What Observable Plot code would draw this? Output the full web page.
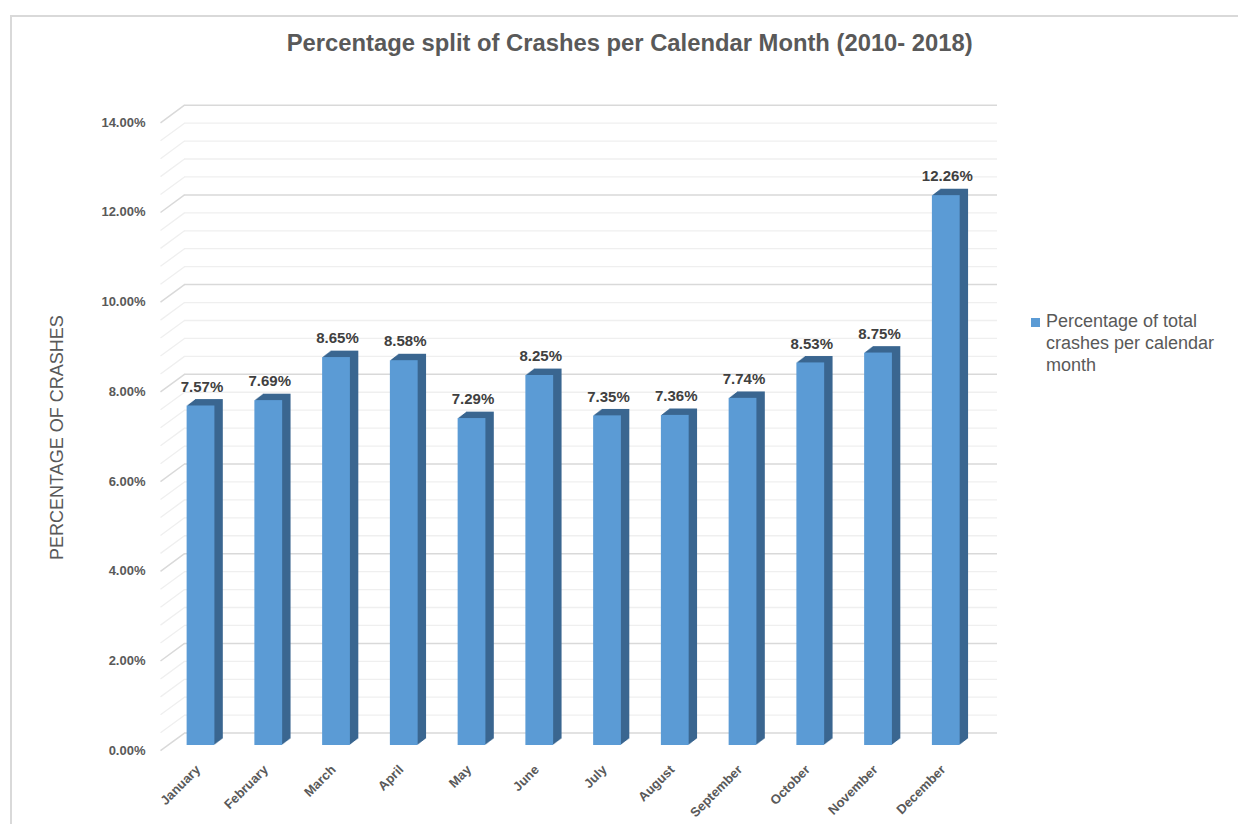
<!DOCTYPE html>
<html>
<head>
<meta charset="utf-8">
<script src="https://cdn.jsdelivr.net/npm/d3@7"></script>
<script src="https://cdn.jsdelivr.net/npm/@observablehq/plot@0.6"></script>
<style>
  html, body { margin: 0; padding: 0; background: #fff; overflow: hidden; }
  #wrap { position: relative; width: 1238px; height: 824px; font-family: "Liberation Sans", Arial, sans-serif; }
  #border { position: absolute; left: 10px; top: 15px; width: 1240px; height: 820px; border-left: 2px solid #d9d9d9; border-top: 2px solid #d9d9d9; box-sizing: border-box; }
  #title { position: absolute; left: 0; top: 28px; width: 1260px; text-align: center; font-family: "Liberation Sans", Arial, sans-serif; font-weight: bold; font-size: 23px; line-height: 30px; color: #595959; }
  #title span { display: inline-block; transform-origin: 50% 50%; }
  #chart { position: absolute; left: 0; top: 60px; }
  #legend { position: absolute; left: 1031px; top: 310px; font-size: 18px; line-height: 22px; color: #595959; }
  #legend .sw { position: absolute; left: 0; top: 8px; width: 9px; height: 9px; background: #5B9BD5; }
  #legend .tx { position: absolute; left: 15px; top: 0; width: 200px; }
</style>
</head>
<body>
<div id="wrap">
  <div id="border"></div>
  <div id="title"><span>Percentage split of Crashes per Calendar Month (2010- 2018)</span></div>
  <div id="chart"></div>
  <div id="legend"><div class="sw"></div><div class="tx">Percentage of total crashes per calendar month</div></div>
</div>
<script>
const months = ["January","February","March","April","May","June","July","August","September","October","November","December"];
const values = [7.57, 7.69, 8.65, 8.58, 7.29, 8.25, 7.35, 7.36, 7.74, 8.53, 8.75, 12.26];
const yTicks = [0, 2, 4, 6, 8, 10, 12, 14];
const minorStep = 0.4;

const data = months.map((m, i) => ({month: m, i, value: values[i]}));
const gridAll = d3.range(0, 36).map(k => +(k * minorStep).toFixed(2));
const gridMajor = gridAll.filter(v => yTicks.includes(v));
const gridMinor = gridAll.filter(v => !yTicks.includes(v));

const xMin = -0.598, xMax = 11.756;   // wall extents in category units
const depthX = 0.354, depthY = 0.392; // 3D depth of floor/wall in data units
const half = 0.205;                   // half bar width in category units
const front = "#5B9BD5", side = "#3A6690";

const sideLayers = d3.range(1, 9).map(k =>
  Plot.rectY(data, {x1: d => d.i - half, x2: d => d.i + half, y1: 0, y2: "value", fill: side, dx: k * 1.05, dy: -k * 0.8})
);

const chart = Plot.plot({
  width: 1238,
  height: 764,
  marginLeft: 160,
  marginRight: 241,
  marginTop: 57.1,
  marginBottom: 79,
  x: {type: "linear", domain: [xMin, xMax], axis: null},
  y: {domain: [0, 14], axis: null},
  style: {fontFamily: "Liberation Sans, Arial, sans-serif", background: "transparent", overflow: "visible"},
  marks: [
    Plot.ruleY(gridMinor, {stroke: "#efefef", strokeWidth: 1.3, dy: -12.4, insetLeft: 24}),
    Plot.link(gridMinor, {x1: xMin, x2: xMin + depthX, y1: d => d, y2: d => d + depthY, dy: 5.2, stroke: "#efefef", strokeWidth: 1.3}),
    Plot.ruleY(gridMajor, {stroke: "#d9d9d9", strokeWidth: 1.5, dy: -12.4, insetLeft: 24}),
    Plot.link(gridMajor, {x1: xMin, x2: xMin + depthX, y1: d => d, y2: d => d + depthY, dy: 5.2, stroke: "#d9d9d9", strokeWidth: 1.5}),
    ...sideLayers,
    Plot.rectY(data, {x1: d => d.i - half, x2: d => d.i + half, y1: 0, y2: "value", fill: front}),
    Plot.text(data, {x: "i", y: "value", text: d => d.value.toFixed(2) + "%", dy: -19, dx: 1, fontWeight: "bold", fontSize: 15, fill: "#404040"}),
    Plot.text(yTicks, {y: d => d, text: d => d.toFixed(2) + "%", frameAnchor: "left", textAnchor: "end", dx: -15, dy: 5, fontWeight: "bold", fontSize: 13, fill: "#595959"}),
    Plot.text(data, {x: "i", text: "month", frameAnchor: "bottom", rotate: -45, textAnchor: "end", dy: 25, dx: 0, fontWeight: "bold", fontSize: 13, fill: "#595959"}),
    Plot.text(["PERCENTAGE OF CRASHES"], {frameAnchor: "left", textAnchor: "middle", rotate: -90, dx: -103, dy: 6, fontSize: 18, fill: "#595959"})
  ]
});
document.getElementById("chart").appendChild(chart);

// fit the title to the reference's condensed width
const span = document.querySelector("#title span");
const w = span.getBoundingClientRect().width;
span.style.transform = `scaleX(${686 / w})`;
</script>
</body>
</html>
